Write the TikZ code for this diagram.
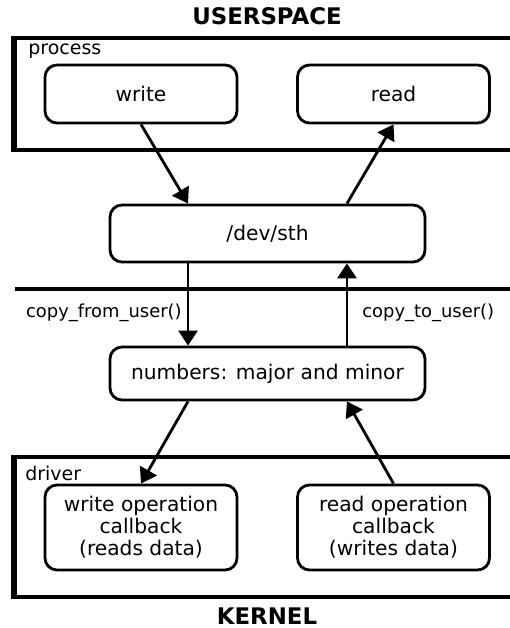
\documentclass[tikz,border=0pt]{standalone}
\usepackage{fontspec}
\setmainfont{DejaVu Sans}
\usetikzlibrary{arrows.meta,calc}

\begin{document}
\begin{tikzpicture}[
  box/.style={draw, line width=1.6pt, rounded corners=0.24cm, align=center,
    minimum width=3.84cm, font=\fontsize{11.5}{12.5}\selectfont},
  wide/.style={box, minimum width=6.3cm},
  frm/.style={line width=2pt},
  lbl/.style={inner sep=0pt, font=\fontsize{10.8}{13}\selectfont},
  call/.style={lbl, font=\fontsize{10.2}{12}\selectfont},
  ttl/.style={anchor=base, font=\fontsize{13}{15}\selectfont\bfseries},
  flow/.style={line width=1.6pt, -{Triangle[length=0.3cm, width=0.38cm]}},
]
\useasboundingbox (0,0) rectangle (10.2,12.56);

\begin{scope}
	\node [ttl] (user) at (5.34,12.06) {USERSPACE};
	\draw [frm] (10.2,11.8) -- (0.26,11.8) -- (0.26,9.56) -- (10.2,9.56);
	\draw [line width=1.4pt] (0.31,11.8) -- (0.31,9.56);
	\node [lbl, anchor=west] (process) at (0.56,11.54) {process};

	\node [box, minimum height=1.16cm] (write) at (2.82,10.68) {write};
	\node [box, minimum height=1.16cm] (read) at (7.87,10.68) {read};
\end{scope}

\node [wide, minimum height=1.14cm] (dev) at (5.35,7.89) {/dev/sth};
\draw [line width=2.8pt] (0.3,6.78) -- (10.2,6.78);
\node [call, anchor=east] (fromuser) at (3.64,6.3) {copy\_from\_user()};
\node [call, anchor=west] (touser) at (7.24,6.3) {copy\_to\_user()};
\node [wide, minimum height=1.06cm] (numbers) at (5.35,5.09) {numbers: major and minor};

\begin{scope}
	\draw [frm] (10.2,3.42) -- (0.26,3.42) -- (0.26,0.62) -- (10.2,0.62);
	\draw [line width=1.4pt] (0.31,3.42) -- (0.31,0.62);
	\node [lbl, anchor=west] (driver) at (0.5,3.1) {driver};

	\node [box, minimum height=1.7cm] (writeop) at (2.82,2.01) {write operation\\callback\\(reads data)};
	\node [box, minimum height=1.7cm] (readop) at (7.87,2.01) {read operation\\callback\\(writes data)};
	\node [ttl] (kernel) at (5.34,0.06) {KERNEL};
\end{scope}

\draw [flow] (write.south) -- ($(dev.north west)!0.25!(dev.north east)$);
\draw [flow] ($(dev.north west)!0.75!(dev.north east)$) -- (read.south);
\draw [flow] ($(dev.south west)!0.25!(dev.south east)$) -- ($(numbers.north west)!0.25!(numbers.north east)$);
\draw [flow] ($(numbers.north west)!0.75!(numbers.north east)$) -- ($(dev.south west)!0.75!(dev.south east)$);
\draw [flow] ($(numbers.south west)!0.25!(numbers.south east)$) -- (writeop.north);
\draw [flow] (readop.north) -- ($(numbers.south west)!0.75!(numbers.south east)$);

\end{tikzpicture}
\end{document}
